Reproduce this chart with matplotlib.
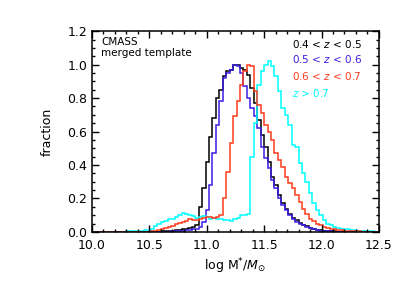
import numpy as np
import matplotlib
matplotlib.use('Agg')
from matplotlib import pyplot as plt
from matplotlib.ticker import MultipleLocator

# bins: 0.03 dex from 10.0
bin_width = 0.03
n_bins = 84

black_z45 = [0]*20 + [0.003, 0.005, 0.007, 0.008, 0.010, 0.012, 0.015, 0.018, 0.022, 0.028,
    0.04, 0.15, 0.26, 0.42, 0.57, 0.68, 0.80, 0.85, 0.93, 0.96,
    0.97, 1.00, 1.00, 0.98, 0.97, 0.94, 0.86, 0.77, 0.67, 0.58,
    0.51, 0.42, 0.33, 0.28, 0.22, 0.17, 0.14, 0.11, 0.085, 0.07,
    0.055, 0.044, 0.033, 0.025, 0.018, 0.014, 0.010, 0.007, 0.005, 0.004,
    0.003, 0.002, 0.002, 0.001] + [0]*10

blue_z56 = [0]*22 + [0.002, 0.003, 0.004, 0.005, 0.007, 0.009, 0.012, 0.016,
    0.02, 0.03, 0.06, 0.13, 0.28, 0.47, 0.64, 0.78, 0.92, 0.95,
    0.97, 1.00, 0.99, 0.95, 0.87, 0.80, 0.74, 0.69, 0.62, 0.51,
    0.44, 0.38, 0.31, 0.26, 0.20, 0.16, 0.13, 0.10, 0.08, 0.06,
    0.05, 0.04, 0.03, 0.022, 0.016, 0.012, 0.008, 0.006, 0.004, 0.003,
    0.002, 0.001] + [0]*12

red_z67 = [0]*17 + [0.003, 0.008, 0.012,
    0.018, 0.025, 0.03, 0.038, 0.045, 0.055, 0.06, 0.068, 0.075, 0.072,
    0.07, 0.075, 0.085, 0.09, 0.088, 0.085, 0.09, 0.10, 0.20, 0.36,
    0.53, 0.69, 0.78, 0.88, 0.96, 1.00, 0.99, 0.84, 0.76, 0.71,
    0.64, 0.60, 0.55, 0.47, 0.43, 0.39, 0.33, 0.29, 0.26, 0.22,
    0.18, 0.14, 0.11, 0.08, 0.065, 0.05, 0.04, 0.032, 0.025, 0.02,
    0.016, 0.013, 0.01, 0.008, 0.006, 0.005, 0.004, 0.003, 0.002, 0.002,
    0.001, 0.001, 0.001, 0.001]

cyan_z7 = [0]*9 + [0.002,
    0.003, 0.004, 0.005, 0.006, 0.008, 0.01, 0.012, 0.02, 0.035, 0.05,
    0.06, 0.065, 0.075, 0.08, 0.09, 0.10, 0.115, 0.11, 0.10, 0.095,
    0.085, 0.09, 0.095, 0.09, 0.08, 0.085, 0.08, 0.075, 0.07, 0.07,
    0.065, 0.08, 0.085, 0.10, 0.10, 0.11, 0.45, 0.65, 0.88, 0.96,
    1.00, 1.02, 0.99, 0.93, 0.84, 0.74, 0.70, 0.64, 0.52, 0.51,
    0.41, 0.35, 0.30, 0.23, 0.17, 0.13, 0.10, 0.07, 0.05, 0.04,
    0.03, 0.025, 0.02, 0.018, 0.015, 0.012, 0.01, 0.008, 0.006, 0.005,
    0.004, 0.003, 0.002, 0.001]

labels = ['0.4 < $z$ < 0.5', '0.5 < $z$ < 0.6', '0.6 < $z$ < 0.7', '$z$ > 0.7']
colors = ['black', '#3a1ee6', '#ff3c1e', '#00ffff']

edges = 10.0 + bin_width*np.arange(n_bins + 1)

fig = plt.figure(figsize=(4.07, 2.91), dpi=100)
ax = fig.add_axes([0.226, 0.203, 0.705, 0.690])

# cyan under red so red shows along the bottom
for vals, col in zip([black_z45, blue_z56, cyan_z7, red_z67], [colors[0], colors[1], colors[3], colors[2]]):
    ax.stairs(vals, edges, color=col, lw=1.1, baseline=None)

ax.set_xlim(10.0, 12.5)
ax.set_ylim(0.0, 1.2)

ax.xaxis.set_major_locator(MultipleLocator(0.5))
ax.xaxis.set_minor_locator(MultipleLocator(0.1))
ax.yaxis.set_major_locator(MultipleLocator(0.2))
ax.yaxis.set_minor_locator(MultipleLocator(0.05))
ax.tick_params(which='both', direction='in', top=True, right=True, labelsize=9)
ax.tick_params(which='major', length=5, width=1)
ax.tick_params(which='minor', length=2.5, width=1)
ax.tick_params(axis='x', pad=5)
ax.xaxis.set_major_formatter(plt.FormatStrFormatter('%.1f'))
ax.yaxis.set_major_formatter(plt.FormatStrFormatter('%.1f'))
for s in ax.spines.values():
    s.set_linewidth(1.1)

ax.set_xlabel(r'log M$^{*}$/$\mathbf{\mathit{M}}_{\odot}$', fontsize=9, labelpad=3)
ax.set_ylabel('fraction', fontsize=9, labelpad=10)

ax.text(0.031, 0.945, 'CMASS', transform=ax.transAxes, fontsize=7.5, va='center')
ax.text(0.031, 0.89, 'merged template', transform=ax.transAxes, fontsize=7.5, va='center')

ypos = [0.935, 0.861, 0.776, 0.692]
for lab, col, yy in zip(labels, colors, ypos):
    ax.text(0.697, yy, lab, transform=ax.transAxes, fontsize=7.5, color=col, va='center')

fig.savefig('out.png', dpi=100)
